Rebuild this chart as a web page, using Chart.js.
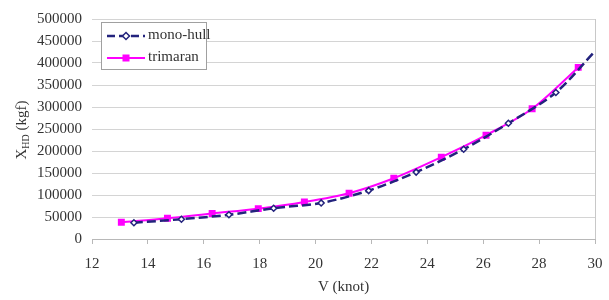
<!DOCTYPE html>
<html>
<head>
<meta charset="utf-8">
<script src="https://cdn.jsdelivr.net/npm/chart.js@4.4.1/dist/chart.umd.min.js"></script>
<style>
  html, body { margin: 0; padding: 0; background: #fff; }
</style>
</head>
<body>
<canvas id="chart" width="609" height="300"></canvas>
<script>
// speed (knot) / resistance (kgf)
const monoV = [13.5, 15.2, 16.9, 18.5, 20.2, 21.9, 23.6, 25.3, 26.9, 28.6, 30.0];
const monoX = [37000, 45000, 55000, 70000, 82000, 110000, 152000, 204000, 263000, 333000, 427000];
const triV = [13.05, 14.7, 16.3, 17.95, 19.6, 21.2, 22.8, 24.5, 26.1, 27.75, 29.4];
const triX = [38000, 47000, 58000, 69000, 84000, 104000, 138000, 186000, 236000, 296000, 390000];
const xTicks = [12, 14, 16, 18, 20, 22, 24, 26, 28, 30];
const yTicks = [0, 50000, 100000, 150000, 200000, 250000, 300000, 350000, 400000, 450000, 500000];

const FONT = "'Liberation Serif', 'Times New Roman', serif";
const NAVY = '#23237d';
const MAGENTA = '#ff00ff';
const TEXT = '#333';

const toPts = (xs, ys) => xs.map((x, i) => ({ x, y: ys[i] }));

// last mono point only carries the dashed line to the border
const monoRadius = monoV.map((v, i) => (i === monoV.length - 1 ? 0 : 3));

function drawMarker(ctx, kind, x, y) {
  ctx.save();
  if (kind === 'diamond') {
    ctx.beginPath();
    ctx.moveTo(x, y - 3.5); ctx.lineTo(x + 3.5, y); ctx.lineTo(x, y + 3.5); ctx.lineTo(x - 3.5, y);
    ctx.closePath();
    ctx.fillStyle = '#fff'; ctx.fill();
    ctx.lineWidth = 1.5; ctx.strokeStyle = NAVY; ctx.stroke();
  } else {
    ctx.fillStyle = MAGENTA;
    ctx.fillRect(x - 3.5, y - 3.5, 7, 7);
  }
  ctx.restore();
}

const decorPlugin = {
  id: 'decor',
  afterDraw(chart) {
    const { ctx, chartArea: a } = chart;
    ctx.save();
    // right border of the plot area
    ctx.strokeStyle = '#c8c8c8';
    ctx.lineWidth = 1;
    ctx.beginPath();
    ctx.moveTo(a.right + 0.5, a.top);
    ctx.lineTo(a.right + 0.5, a.bottom);
    ctx.stroke();

    // legend box
    const bx = 101, by = 22, bw = 105, bh = 47;
    ctx.fillStyle = '#fff';
    ctx.fillRect(bx, by, bw, bh);
    ctx.strokeStyle = '#a0a0a0';
    ctx.strokeRect(bx + 0.5, by + 0.5, bw, bh);

    ctx.font = '15px ' + FONT;
    ctx.textBaseline = 'middle';
    ctx.fillStyle = TEXT;
    // mono-hull entry
    ctx.strokeStyle = NAVY; ctx.lineWidth = 2.5; ctx.setLineDash([8, 4]);
    ctx.beginPath(); ctx.moveTo(107, 36); ctx.lineTo(145, 36); ctx.stroke();
    ctx.setLineDash([]);
    drawMarker(ctx, 'diamond', 126, 36);
    ctx.fillText('mono-hull', 148, 35);
    // trimaran entry
    ctx.strokeStyle = MAGENTA; ctx.lineWidth = 2;
    ctx.beginPath(); ctx.moveTo(107, 58); ctx.lineTo(145, 58); ctx.stroke();
    drawMarker(ctx, 'square', 126, 58);
    ctx.fillText('trimaran', 148, 57);

    // y title with subscript
    ctx.translate(21, 130);
    ctx.rotate(-Math.PI / 2);
    ctx.textBaseline = 'alphabetic';
    const t1 = 'X', t2 = 'HD', t3 = ' (kgf)';
    ctx.font = '15px ' + FONT;
    const w1 = ctx.measureText(t1).width;
    const w3 = ctx.measureText(t3).width;
    ctx.font = '10px ' + FONT;
    const w2 = ctx.measureText(t2).width;
    const x0 = -(w1 + w2 + w3) / 2;
    ctx.font = '15px ' + FONT;
    ctx.fillText(t1, x0, 5);
    ctx.font = '10px ' + FONT;
    ctx.fillText(t2, x0 + w1, 8);
    ctx.font = '15px ' + FONT;
    ctx.fillText(t3, x0 + w1 + w2, 5);
    ctx.restore();
  },
};

new Chart(document.getElementById('chart'), {
  type: 'scatter',
  data: {
    datasets: [
      {
        label: 'mono-hull',
        data: toPts(monoV, monoX),
        showLine: true,
        borderColor: NAVY,
        borderWidth: 2.5,
        borderDash: [9, 4],
        tension: 0.3,
        pointStyle: 'rectRot',
        pointRadius: monoRadius,
        pointBackgroundColor: '#fff',
        pointBorderColor: NAVY,
        pointBorderWidth: 1.5,
      },
      {
        label: 'trimaran',
        data: toPts(triV, triX),
        showLine: true,
        borderColor: MAGENTA,
        borderWidth: 2,
        tension: 0.3,
        pointStyle: 'rect',
        pointRadius: 3.5,
        pointBackgroundColor: MAGENTA,
        pointBorderColor: MAGENTA,
      },
    ],
  },
  options: {
    responsive: false,
    animation: false,
    devicePixelRatio: 1,
    layout: { padding: { left: 0, right: 14, top: 13, bottom: 0 } },
    plugins: { legend: { display: false }, tooltip: { enabled: false } },
    scales: {
      x: {
        type: 'linear',
        min: 12,
        max: 30,
        afterBuildTicks: (s) => { s.ticks = xTicks.map((v) => ({ value: v })); },
        afterFit: (s) => { s.height = 61; s.paddingRight = 0; },
        grid: { drawOnChartArea: false, color: '#b8b8b8', tickLength: 5 },
        border: { color: '#b8b8b8' },
        ticks: { color: TEXT, font: { family: FONT, size: 15 }, padding: 11, maxRotation: 0 },
        title: { display: true, text: 'V (knot)', color: TEXT, font: { family: FONT, size: 15 }, padding: { top: 2, bottom: 4 } },
      },
      y: {
        min: 0,
        max: 500000,
        afterBuildTicks: (s) => { s.ticks = yTicks.map((v) => ({ value: v })); },
        afterFit: (s) => { s.width = 92; },
        grid: { color: '#d4d4d4', drawTicks: false },
        border: { display: false },
        ticks: { color: TEXT, font: { family: FONT, size: 15 }, padding: 10, autoSkip: false, callback: (v) => String(v) },
      },
    },
  },
  plugins: [decorPlugin],
});
</script>
</body>
</html>
